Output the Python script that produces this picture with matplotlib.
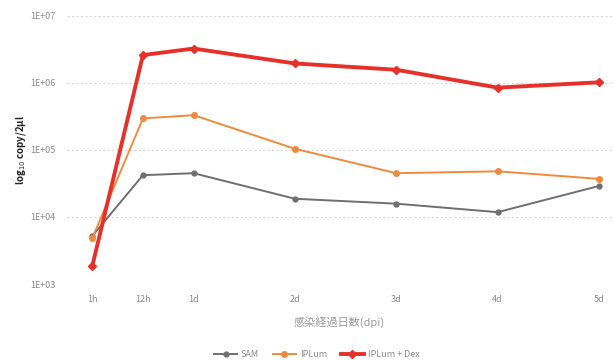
import matplotlib.pyplot as plt
from matplotlib.ticker import FixedLocator, NullLocator

plt.rcParams['font.family'] = ['Noto Sans CJK JP', 'DejaVu Sans']

# 感染後の経過時間 (日単位の位置) とラベル
time_pos = [0, 0.5, 1, 2, 3, 4, 5]
time_labels = ['1h', '12h', '1d', '2d', '3d', '4d', '5d']

# copy/2μl
sam = [5.2e3, 4.2e4, 4.5e4, 1.87e4, 1.58e4, 1.18e4, 2.9e4]
iplum = [4.8e3, 2.95e5, 3.3e5, 1.04e5, 4.5e4, 4.8e4, 3.7e4]
iplum_dex = [1.85e3, 2.6e6, 3.25e6, 1.95e6, 1.57e6, 8.5e5, 1.02e6]

y_ticks = [1e3, 1e4, 1e5, 1e6, 1e7]
y_labels = ['1E+03', '1E+04', '1E+05', '1E+06', '1E+07']

fig = plt.figure(figsize=(6.14, 3.6), dpi=100)
ax = fig.add_axes([0.109, 0.211, 0.888, 0.745])

ax.plot(time_pos, sam, color='#6f6f6f', lw=1.4, marker='o', ms=3.5, label='SAM')
ax.plot(time_pos, iplum, color='#f08a3c', lw=1.4, marker='o', ms=4, label='IPLum')
ax.plot(time_pos, iplum_dex, color='#e8302a', lw=2.8, marker='D', ms=4.5,
        label='IPLum + Dex')

ax.set_yscale('log')
ax.set_ylim(1e3, 1e7)
ax.set_xlim(-0.25, 5.13)
ax.yaxis.set_major_locator(FixedLocator(y_ticks))
ax.yaxis.set_minor_locator(NullLocator())
ax.set_yticklabels(y_labels)
ax.set_xticks(time_pos)
ax.set_xticklabels(time_labels)

ax.grid(axis='y', color='#d8d8d8', lw=0.8, ls=(0, (2, 2)))
ax.set_axisbelow(True)
for s in ax.spines.values():
    s.set_visible(False)
ax.tick_params(length=0, labelsize=6.5, labelcolor='#8a8a8a', pad=8)

ax.set_xlabel('感染経過日数(dpi)', fontsize=8, color='#9a9a9a', labelpad=9)
ax.set_ylabel('log$_{10}$ copy/2μl', fontsize=7, fontweight='bold',
              color='#222222', labelpad=2)

ax.legend(loc='upper center', bbox_to_anchor=(0.458, -0.215), ncol=3, frameon=False,
          fontsize=6.5, labelcolor='#8a8a8a', handlelength=2.6, columnspacing=1.5,
          handletextpad=0.4)

fig.savefig('out.png', dpi=100)
